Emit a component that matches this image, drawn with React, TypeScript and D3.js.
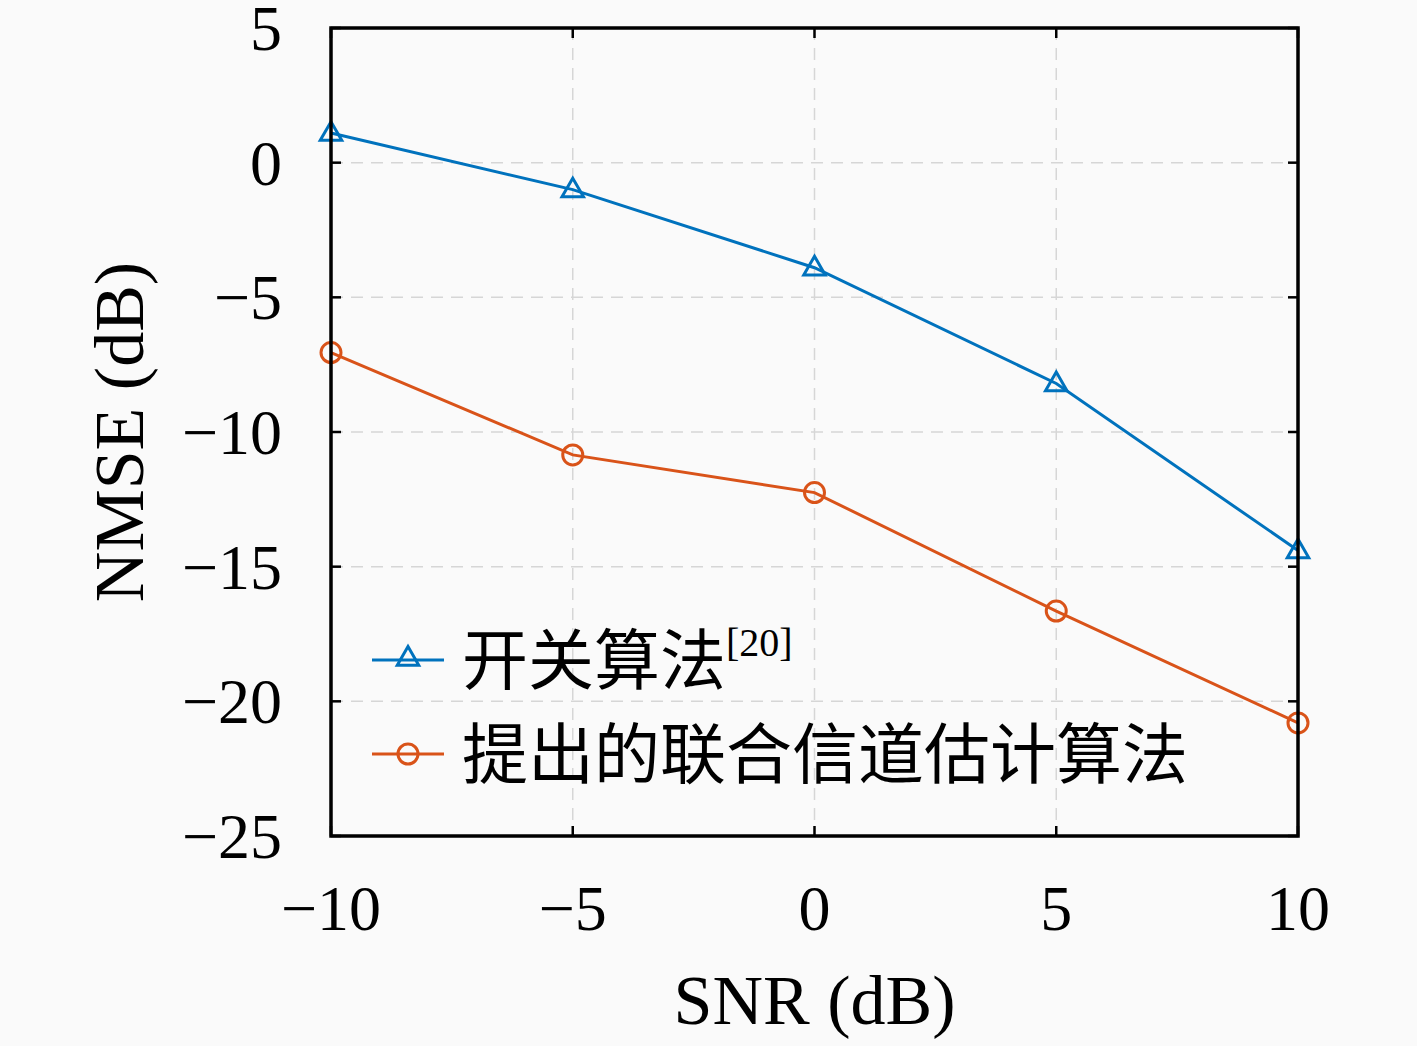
import React, { useEffect, useRef } from "react";
import * as d3 from "d3";

const snr = [-10, -5, 0, 5, 10];
const switchNmse = [1.1, -1.0, -3.9, -8.2, -14.4];
const proposedNmse = [-7.05, -10.85, -12.25, -16.65, -20.8];
const xTicks = [-10, -5, 0, 5, 10];
const yTicks = [5, 0, -5, -10, -15, -20, -25];
const seriesNames = ["开关算法", "提出的联合信道估计算法"];

const W = 1417;
const H = 1046;
const margin = { left: 331, right: 119, top: 28, bottom: 210 };

const serif = "'Liberation Serif', 'DejaVu Serif', serif";
const cjk = "'Noto Sans CJK SC', sans-serif";

const fmt = (v: number) => (v < 0 ? "\u2212" + Math.abs(v) : String(v));

const App: React.FC = () => {
  const ref = useRef<SVGSVGElement | null>(null);

  useEffect(() => {
    if (!ref.current) return;
    const svg = d3.select(ref.current);
    svg.selectAll("*").remove();

    const x = d3.scaleLinear().domain([-10, 10]).range([margin.left, W - margin.right]);
    const y = d3.scaleLinear().domain([-25, 5]).range([H - margin.bottom, margin.top]);

    svg.append("rect").attr("width", W).attr("height", H).attr("fill", "#fafafa");

    // grid
    const grid = svg.append("g").attr("stroke", "#d6d6d6").attr("stroke-width", 1.5).attr("stroke-dasharray", "12,8");
    xTicks.slice(1, -1).forEach((t) => {
      grid.append("line").attr("x1", x(t)).attr("x2", x(t)).attr("y1", y(5)).attr("y2", y(-25));
    });
    yTicks.slice(1, -1).forEach((t) => {
      grid.append("line").attr("x1", x(-10)).attr("x2", x(10)).attr("y1", y(t)).attr("y2", y(t));
    });

    // ticks inward
    const tk = svg.append("g").attr("stroke", "#000").attr("stroke-width", 2.5);
    xTicks.forEach((t) => {
      tk.append("line").attr("x1", x(t)).attr("x2", x(t)).attr("y1", y(-25)).attr("y2", y(-25) - 10);
      tk.append("line").attr("x1", x(t)).attr("x2", x(t)).attr("y1", y(5)).attr("y2", y(5) + 10);
    });
    yTicks.forEach((t) => {
      tk.append("line").attr("x1", x(-10)).attr("x2", x(-10) + 10).attr("y1", y(t)).attr("y2", y(t));
      tk.append("line").attr("x1", x(10)).attr("x2", x(10) - 10).attr("y1", y(t)).attr("y2", y(t));
    });

    // tick labels
    xTicks.forEach((t) => {
      svg.append("text").attr("x", x(t)).attr("y", 930).attr("text-anchor", "middle")
        .attr("font-family", serif).attr("font-size", 64).text(fmt(t));
    });
    yTicks.forEach((t) => {
      svg.append("text").attr("x", 282).attr("y", y(t) + 22).attr("text-anchor", "end")
        .attr("font-family", serif).attr("font-size", 64).text(fmt(t));
    });

    // axis labels
    svg.append("text").attr("x", x(0)).attr("y", 1024).attr("text-anchor", "middle")
      .attr("font-family", serif).attr("font-size", 70).text("SNR (dB)");
    svg.append("text").attr("transform", `translate(143, ${y(-10)}) rotate(-90)`).attr("text-anchor", "middle")
      .attr("font-family", serif).attr("font-size", 70).text("NMSE (dB)");

    const colors = ["#0072BD", "#D95319"];
    const data = [switchNmse, proposedNmse];
    const line = d3.line<number>().x((_, i) => x(snr[i])).y((d) => y(d));

    const tri = d3.symbol().type(d3.symbolTriangle).size(200);
    const drawMarker = (g: any, k: number, cx: number, cy: number) => {
      if (k === 0) {
        g.append("path").attr("d", tri()).attr("transform", `translate(${cx},${cy + 1})`)
          .attr("fill", "none").attr("stroke", colors[k]).attr("stroke-width", 3);
      } else {
        g.append("circle").attr("cx", cx).attr("cy", cy).attr("r", 10)
          .attr("fill", "none").attr("stroke", colors[k]).attr("stroke-width", 3);
      }
    };

    data.forEach((vals, k) => {
      const g = svg.append("g");
      g.append("path").attr("d", line(vals)).attr("fill", "none")
        .attr("stroke", colors[k]).attr("stroke-width", 3);
      vals.forEach((v, i) => drawMarker(g, k, x(snr[i]), y(v)));
    });

    // frame
    svg.append("rect").attr("x", x(-10)).attr("y", y(5)).attr("width", x(10) - x(-10)).attr("height", y(-25) - y(5))
      .attr("fill", "none").attr("stroke", "#000").attr("stroke-width", 3.5);

    // legend
    const legY = [660, 754];
    seriesNames.forEach((name, k) => {
      const g = svg.append("g");
      g.append("line").attr("x1", 372).attr("x2", 444).attr("y1", legY[k]).attr("y2", legY[k])
        .attr("stroke", colors[k]).attr("stroke-width", 3);
      drawMarker(g, k, 408, legY[k] - (k === 0 ? 2 : 0));
      const t = g.append("text").attr("x", 462).attr("y", legY[k] + 24)
        .attr("font-family", cjk).attr("font-size", 66).text(name);
      if (k === 0) {
        t.append("tspan").attr("font-family", serif).attr("font-size", 40).attr("dy", -28).text("[20]");
      }
    });
  }, []);

  return <svg ref={ref} width={W} height={H} style={{ display: "block", position: "absolute", left: 0, top: 0 }} />;
};

export default App;
